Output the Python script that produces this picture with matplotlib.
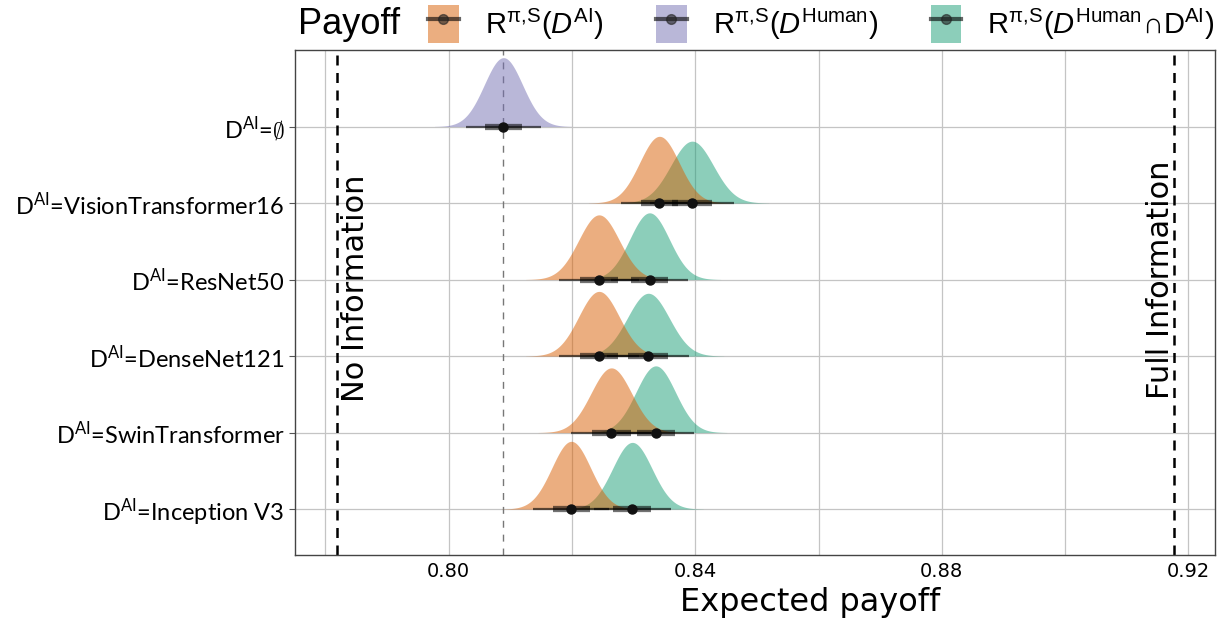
import numpy as np
import matplotlib
matplotlib.use('Agg')
import matplotlib.pyplot as plt
from matplotlib.patches import Patch
from matplotlib.lines import Line2D
from matplotlib.legend_handler import HandlerTuple

plt.rcParams['mathtext.fontset'] = 'custom'
plt.rcParams['mathtext.rm'] = 'Liberation Sans'
plt.rcParams['mathtext.it'] = 'Liberation Sans:italic'

# rows from bottom to top
models = ['Inception V3', 'SwinTransformer', 'DenseNet121', 'ResNet50', 'VisionTransformer16', r'$\emptyset$']
# posterior mean / sd of payoff with AI data only (orange)
ai_mean = [0.8199, 0.8264, 0.8244, 0.8244, 0.8342]
ai_sd = [0.00315, 0.0033, 0.0033, 0.0033, 0.0032]
# human + AI (green)
both_mean = [0.8298, 0.8336, 0.8324, 0.8326, 0.8395]
both_sd = [0.0032, 0.0032, 0.0034, 0.0032, 0.00345]
# human only (purple, top row)
human_mean = 0.8089
human_sd = 0.0031
no_info = 0.7819
full_info = 0.9177

c_ai = '#D95F02'
c_human = '#7570B3'
c_both = '#1B9E77'

fig = plt.figure(figsize=(12.28, 6.19), dpi=100)
ax = fig.add_axes([295/1228, 1-555/619, 920/1228, 505/619])

all_sd = ai_sd + both_sd + [human_sd]
scale = 0.9 * min(all_sd)

def ridge(m, s, y0, col):
    x = np.linspace(m - 3.6*s, m + 3.6*s, 300)
    h = scale * np.exp(-0.5*((x - m)/s)**2) / s
    ax.fill_between(x, y0, y0 + h, color=col, alpha=0.5, lw=0, zorder=2)

def interval(m, s, y0):
    ax.plot([m - 1.96*s, m + 1.96*s], [y0, y0], color='black', alpha=0.6, lw=1.6,
            solid_capstyle='butt', zorder=3)
    ax.plot([m - 0.954*s, m + 0.954*s], [y0, y0], color='black', alpha=0.55, lw=4.5,
            solid_capstyle='butt', zorder=3)
    ax.plot(m, y0, 'o', color='#111111', ms=6.5, zorder=4)

for i in range(len(ai_mean)):
    ridge(both_mean[i], both_sd[i], i, c_both)
    ridge(ai_mean[i], ai_sd[i], i, c_ai)
top = len(models) - 1
ridge(human_mean, human_sd, top, c_human)
for i in range(len(ai_mean)):
    interval(ai_mean[i], ai_sd[i], i)
    interval(both_mean[i], both_sd[i], i)
interval(human_mean, human_sd, top)

ax.axvline(human_mean, color='#777777', lw=1, dashes=(5, 5), zorder=1.5)
ax.axvline(no_info, color='black', lw=1.8, dashes=(4, 3), zorder=2.5)
ax.axvline(full_info, color='black', lw=1.8, dashes=(4, 3), zorder=2.5)
ax.text(0.7849, 2.89, 'No Information', rotation=90, ha='center', va='center',
        fontsize=22, family='DejaVu Sans')
ax.text(0.9154, 3.0, 'Full Information', rotation=90, ha='center', va='center',
        fontsize=22, family='DejaVu Sans')

ax.set_xlim(0.7751, 0.9243)
ax.set_ylim(-0.6, 6.0)
ax.set_xticks([0.80, 0.84, 0.88, 0.92])
ax.set_xticks([0.78, 0.82, 0.86, 0.90], minor=True)
ax.set_xticklabels(['0.80', '0.84', '0.88', '0.92'], fontsize=14,
                   family=['Liberation Sans Narrow', 'DejaVu Sans'])
ax.set_yticks(range(len(models)))
ax.set_yticklabels([r'D$^{\mathregular{AI}}$=' + m for m in models], fontsize=17,
                   family=['Lato', 'DejaVu Sans'])
ax.tick_params(axis='both', which='both', length=4, color='#555555', width=0.8)
ax.tick_params(axis='x', which='both', length=0, pad=5)
ax.grid(which='both', color='#c4c4c4', lw=0.9)
ax.set_axisbelow(True)
for sp in ax.spines.values():
    sp.set_color('#444444')
    sp.set_linewidth(1.0)

ax.set_xlabel('Expected payoff', fontsize=23, family=['Liberation Sans Narrow', 'DejaVu Sans'])
ax.xaxis.set_label_coords(0.56, -0.064)

fig.text(298/1228, 1-24/619, 'Payoff', fontsize=26, family='Liberation Sans', va='center')

def key(col):
    return (Patch(facecolor=col, alpha=0.5, edgecolor='none'),
            Line2D([], [], color='black', alpha=0.6, lw=3, marker='o', ms=7,
                   markerfacecolor='#222222', markeredgecolor='#222222'))

labels = [r'R$^{\mathregular{π,\!S}}$($\mathit{D}^{\mathregular{AI}}$)',
          r'R$^{\mathregular{π,\!S}}$($\mathit{D}^{\mathregular{Human}}$)',
          r'R$^{\mathregular{π,\!S}}$($\mathit{D}^{\mathregular{Human}}$∩D$^{\mathregular{AI}}$)']
fig.legend([key(c_ai), key(c_human), key(c_both)], labels,
           handler_map={tuple: HandlerTuple(ndivide=1)},
           loc='center left', bbox_to_anchor=(428/1228, 1-24/619), ncol=3,
           frameon=False, handlelength=1.05, handleheight=1.6,
           handletextpad=0.9, columnspacing=1.8, borderpad=0, borderaxespad=0,
           prop={'family': ['Liberation Sans', 'DejaVu Sans'], 'size': 21})

fig.savefig('out.png', dpi=100)
